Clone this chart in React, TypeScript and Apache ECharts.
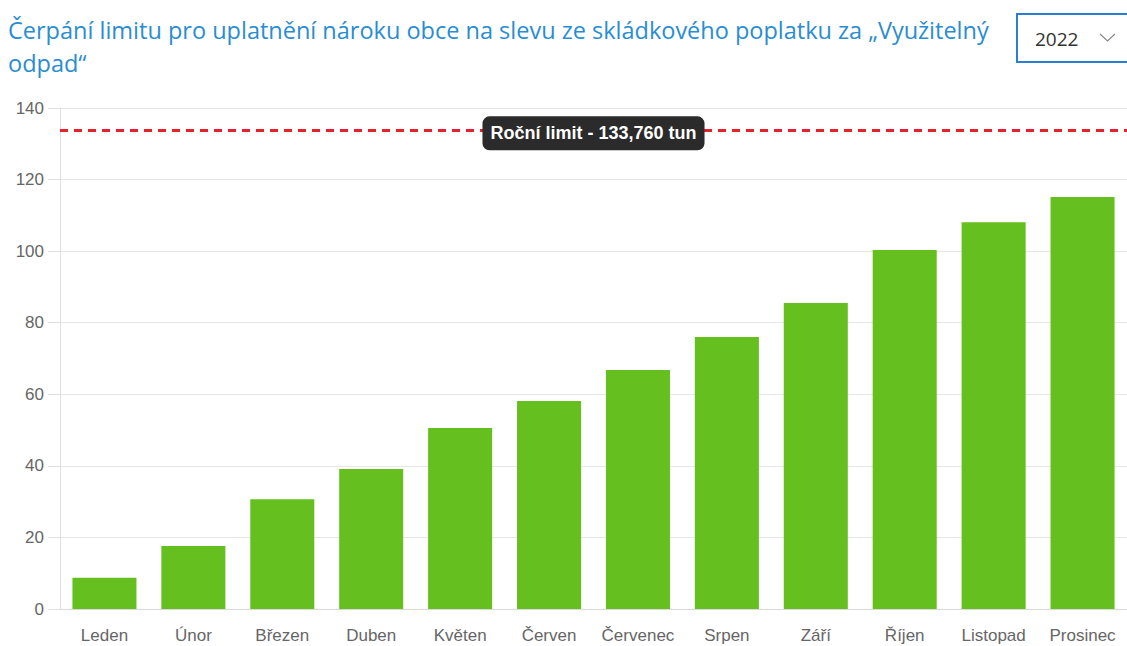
import React, { useEffect, useRef } from "react";
import * as echarts from "echarts";

const titleText = "Čerpání limitu pro uplatnění nároku obce na slevu ze skládkového poplatku za „Využitelný\nodpad“";
const yearLabel = "2022";
const months = ["Leden", "Únor", "Březen", "Duben", "Květen", "Červen", "Červenec", "Srpen", "Září", "Říjen", "Listopad", "Prosinec"];
const values = [8.7, 17.6, 30.7, 39.1, 50.6, 58.1, 66.8, 76.0, 85.5, 100.3, 108.1, 115.1];
const limitValue = 133.76;
const limitLabel = "Roční limit - 133,760 tun";
const yMin = 0;
const yMax = 140;
const yInterval = 20;

export default function App() {
  const ref = useRef<HTMLDivElement>(null);
  useEffect(() => {
    document.body.style.margin = "0";
    const chart = echarts.init(ref.current!, null, { renderer: "svg" });
    chart.setOption({
      animation: false,
      backgroundColor: "#ffffff",
      title: {
        text: titleText,
        left: 3,
        top: 8,
        textStyle: {
          fontFamily: "Open Sans",
          fontSize: 23.5,
          fontWeight: 500,
          color: "#2a8dd2",
          lineHeight: 33,
        },
      },
      graphic: [
        {
          type: "rect",
          shape: { x: 1017, y: 14, width: 120, height: 48 },
          style: { fill: "#ffffff", stroke: "#2b7fd0", lineWidth: 2 },
        },
        {
          type: "text",
          x: 1035,
          y: 39,
          style: {
            text: yearLabel,
            font: "19px 'Open Sans'",
            fill: "#333333",
            verticalAlign: "middle",
          },
        },
        {
          type: "polyline",
          shape: { points: [[1100, 34], [1107.5, 41], [1115, 34]] },
          style: { stroke: "#888888", lineWidth: 1.2, fill: "none" },
        },
      ],
      grid: { left: 60, right: 0, top: 108, bottom: 37 },
      xAxis: {
        type: "category",
        data: months,
        axisLine: { lineStyle: { color: "#d9d9d9" } },
        axisTick: { show: false },
        axisLabel: { color: "#666666", fontSize: 17, fontFamily: "Liberation Sans", margin: 18, interval: 0 },
      },
      yAxis: {
        type: "value",
        min: yMin,
        max: yMax,
        interval: yInterval,
        axisLine: { show: true, lineStyle: { color: "#e0e0e0" } },
        axisTick: { show: true, length: 12, lineStyle: { color: "#e0e0e0" } },
        axisLabel: { color: "#666666", fontSize: 17, fontFamily: "Liberation Sans", margin: 16 },
        splitLine: { lineStyle: { color: "#e6e6e6" } },
      },
      series: [
        {
          type: "bar",
          data: values,
          barWidth: "72%",
          itemStyle: { color: "#64bf1f" },
          markLine: {
            silent: true,
            symbol: "none",
            data: [{ yAxis: limitValue }],
            lineStyle: { color: "#e3222b", type: [8, 6], width: 3 },
            label: {
              show: true,
              position: "middle",
              distance: -20,
              formatter: limitLabel,
              color: "#ffffff",
              fontWeight: "bold",
              fontSize: 18,
              fontFamily: "Liberation Sans",
              backgroundColor: "#2b2b2b",
              borderRadius: 7,
              padding: [8, 8, 8, 8],
            },
            emphasis: { disabled: true },
          },
        },
      ],
    });
    return () => chart.dispose();
  }, []);
  return <div ref={ref} style={{ width: 1127, height: 646 }} />;
}
